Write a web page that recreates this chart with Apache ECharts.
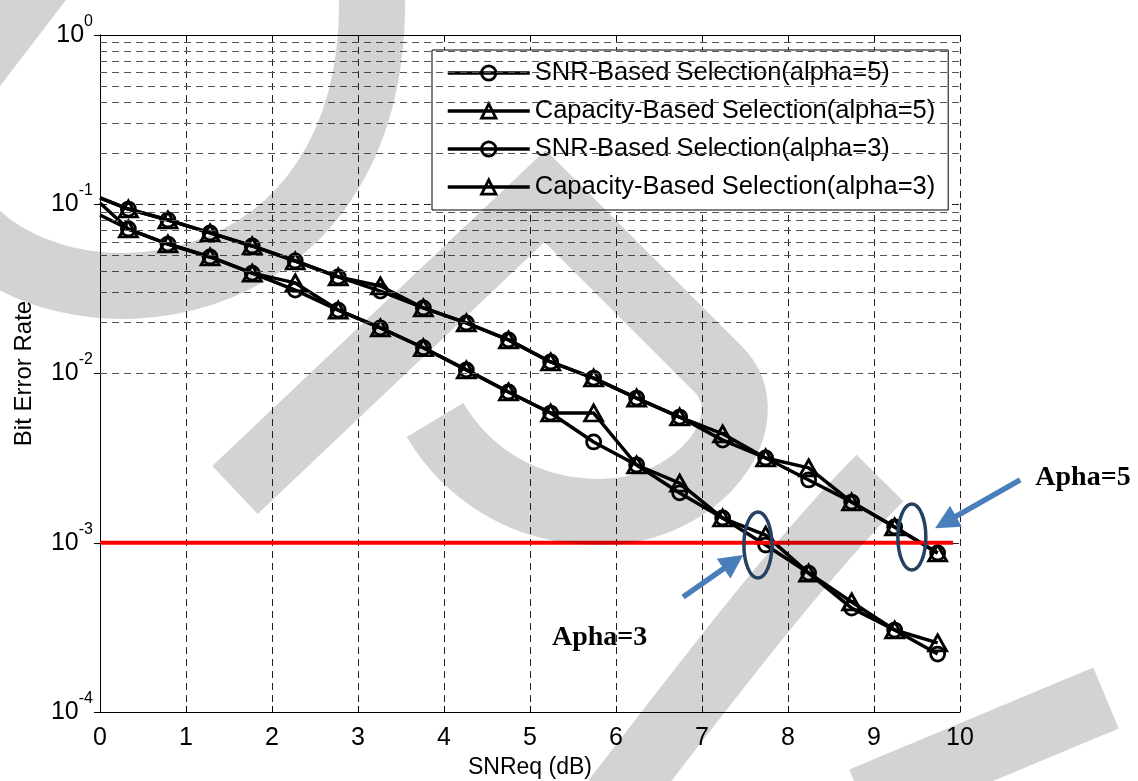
<!DOCTYPE html>
<html>
<head>
<meta charset="utf-8">
<title>Bit Error Rate vs SNReq</title>
<script src="https://cdn.jsdelivr.net/npm/echarts@6/dist/echarts.min.js"></script>
<style>
  html, body { margin: 0; padding: 0; background: #fff; }
  #chart { width: 1138px; height: 781px; }
</style>
</head>
<body>
<div id="chart"></div>
<script>
// x positions (dB); the point at 0 is drawn without a marker
const snrReq = [0, 0.33, 0.79, 1.28, 1.77, 2.27, 2.77, 3.26, 3.76, 4.26, 4.75, 5.24, 5.74, 6.24, 6.74, 7.24, 7.74, 8.24, 8.74, 9.24, 9.74];

const snrBasedA5 = [0.109, 0.0937, 0.0807, 0.0677, 0.0567, 0.0462, 0.0372, 0.0307, 0.0244, 0.0199, 0.0158, 0.0117, 0.0094, 0.00716, 0.00553, 0.00404, 0.00317, 0.00235, 0.00174, 0.00124, 0.00087];
const capBasedA5 = [0.109, 0.0937, 0.0807, 0.0677, 0.0567, 0.0462, 0.0372, 0.0329, 0.0244, 0.0199, 0.0158, 0.0117, 0.0094, 0.00716, 0.00553, 0.0044, 0.00317, 0.00277, 0.00174, 0.00124, 0.00087];
const snrBasedA3 = [0.1017, 0.0714, 0.0582, 0.0488, 0.0392, 0.0311, 0.0237, 0.0186, 0.0142, 0.0105, 0.00778, 0.00584, 0.00394, 0.00288, 0.00197, 0.0014, 0.00097, 0.000662, 0.000411, 0.000305, 0.00022];
const capBasedA3 = [0.0864, 0.0714, 0.0582, 0.0488, 0.0392, 0.0343, 0.0237, 0.0186, 0.0142, 0.0105, 0.00778, 0.00584, 0.00584, 0.00288, 0.00225, 0.0014, 0.00111, 0.000662, 0.000447, 0.000305, 0.000256];

const seriesNames = [
  'SNR-Based Selection(alpha=5)',
  'Capacity-Based Selection(alpha=5)',
  'SNR-Based Selection(alpha=3)',
  'Capacity-Based Selection(alpha=3)'
];

// red target line
const berTarget = 1e-3;
const targetSpan = [0, 9.92];

// annotations, in data coordinates
const noteLabels = ['Apha=3', 'Apha=5'];
const notePos = [[5.81, 0.000274], [11.43, 0.00241]];
const ringPos = [[7.65, 0.00097], [9.44, 0.00108]];
const arrowTail = [[6.78, 0.000478], [10.70, 0.00235]];
const arrowTip = [[7.48, 0.000847], [9.71, 0.00122]];

const FONT = '"Liberation Sans", Arial, sans-serif';
const DASH = [7, 5];

// minor log grid: 2..9 x 10^k
const minorGrid = [];
for (let k = -4; k < 0; k++) {
  for (let m = 2; m <= 9; m++) minorGrid.push(m * Math.pow(10, k));
}

function makeSeries(name, values, symbol, size) {
  return {
    name: name,
    type: 'line',
    data: snrReq.map((x, i) => i === 0 ? { value: [x, values[i]], symbol: 'none' } : [x, values[i]]),
    symbol: symbol,
    symbolSize: size,
    showSymbol: true,
    lineStyle: { color: '#000', width: 3.5 },
    itemStyle: { color: 'rgba(0,0,0,0)', borderColor: '#000', borderWidth: 2.8 },
    emphasis: { disabled: true },
    z: 3
  };
}

const chart = echarts.init(document.getElementById('chart'));

chart.setOption({
  animation: false,
  backgroundColor: '#fff',
  grid: { left: 100, right: 178, top: 35, bottom: 69, containLabel: false, outerBoundsMode: 'none' },
  legend: {
    data: seriesNames,
    orient: 'vertical',
    left: 432,
    top: 50,
    backgroundColor: '#fff',
    borderColor: '#000',
    borderWidth: 1,
    borderRadius: 0,
    padding: [10, 13, 10, 14],
    itemWidth: 82,
    itemHeight: 18,
    itemGap: 12,
    selectedMode: false,
    lineStyle: { width: 3.5, color: '#000' },
    itemStyle: { borderWidth: 2.8, borderColor: '#000', color: 'rgba(0,0,0,0)' },
    textStyle: { fontSize: 25.5, fontFamily: FONT, color: '#000' }
  },
  xAxis: [
    {
      type: 'value',
      min: 0,
      max: 10,
      interval: 1,
      name: 'SNReq (dB)',
      nameLocation: 'middle',
      nameGap: 44,
      nameTextStyle: { fontSize: 23, fontFamily: FONT, color: '#000' },
      axisLine: { show: true, lineStyle: { color: '#000', width: 1 } },
      axisTick: { show: true, inside: true, length: 6, lineStyle: { color: '#000' } },
      axisLabel: { fontSize: 25, fontFamily: FONT, color: '#000', margin: 14 },
      splitLine: { show: true, lineStyle: { color: '#222', type: DASH, width: 1 } }
    },
    {
      type: 'value',
      position: 'top',
      min: 0,
      max: 10,
      interval: 1,
      axisLine: { show: true, lineStyle: { color: '#000', width: 1 } },
      axisTick: { show: true, inside: true, length: 6, lineStyle: { color: '#000' } },
      axisLabel: { show: false },
      splitLine: { show: false }
    }
  ],
  yAxis: [
    {
      type: 'log',
      logBase: 10,
      min: 1e-4,
      max: 1,
      name: 'Bit Error Rate',
      nameLocation: 'middle',
      nameGap: 64,
      nameTextStyle: { fontSize: 24, fontFamily: FONT, color: '#000' },
      axisLine: { show: true, lineStyle: { color: '#000', width: 1 } },
      axisTick: { show: true, inside: true, length: 6, lineStyle: { color: '#000' } },
      axisLabel: {
        margin: 7,
        padding: [0, 0, 9, 0],
        formatter: function (v) {
          const e = Math.round(Math.log10(v));
          return '{b|10}{s|' + e + '}';
        },
        rich: {
          b: { fontSize: 25, fontFamily: FONT, color: '#000', padding: [9, 0, 0, 0] },
          s: { fontSize: 16, fontFamily: FONT, color: '#000', verticalAlign: 'top' }
        }
      },
      splitLine: { show: true, lineStyle: { color: '#222', type: DASH, width: 1 } }
    },
    {
      type: 'log',
      logBase: 10,
      min: 1e-4,
      max: 1,
      position: 'right',
      axisLine: { show: true, lineStyle: { color: '#000', width: 1 } },
      axisTick: { show: true, inside: true, length: 6, lineStyle: { color: '#000' } },
      axisLabel: { show: false },
      splitLine: { show: false }
    }
  ],
  series: [
    {
      name: 'minor grid',
      type: 'line',
      data: [[0, 1e-4]],
      symbol: 'none',
      lineStyle: { opacity: 0 },
      silent: true,
      z: 1,
      markLine: {
        silent: true,
        symbol: ['none', 'none'],
        label: { show: false },
        lineStyle: { color: '#555', type: DASH, width: 1 },
        data: minorGrid.map(v => ({ yAxis: v }))
      }
    },
    makeSeries(seriesNames[0], snrBasedA5, 'circle', 14),
    makeSeries(seriesNames[1], capBasedA5, 'triangle', [18, 16]),
    makeSeries(seriesNames[2], snrBasedA3, 'circle', 14),
    makeSeries(seriesNames[3], capBasedA3, 'triangle', [18, 16]),
    {
      name: 'target',
      type: 'line',
      data: targetSpan.map(x => [x, berTarget]),
      symbol: 'none',
      lineStyle: { color: '#ff0000', width: 4 },
      silent: true,
      z: 4
    }
  ]
});

// annotations and the faint background watermark
const px = p => chart.convertToPixel({ xAxisIndex: 0, yAxisIndex: 0 }, p);
const gray = '#d3d3d3';
const wm = { fill: 'none', stroke: gray, lineWidth: 66, lineCap: 'butt', lineJoin: 'miter', blend: 'multiply' };

const graphics = [
  { type: 'polygon', silent: true, z: 100, shape: { points: [[0, 0], [66, 0], [0, 86]] }, style: { fill: gray, blend: 'multiply' } },
  { type: 'bezierCurve', silent: true, z: 100, shape: { x1: -40, y1: 215, cpx1: 50, cpy1: 340, cpx2: 380, cpy2: 320, x2: 372, y2: -10 }, style: wm },
  { type: 'polyline', silent: true, z: 100, shape: { points: [[235, 490], [545, 196], [718, 369]] }, style: wm },
  { type: 'bezierCurve', silent: true, z: 100, shape: { x1: 718, y1: 369, cpx1: 768, cpy1: 419, cpx2: 700, cpy2: 512, x2: 600, y2: 512 }, style: wm },
  { type: 'bezierCurve', silent: true, z: 100, shape: { x1: 600, y1: 512, cpx1: 520, cpy1: 512, cpx2: 465, cpy2: 470, x2: 435, y2: 420 }, style: wm },
  { type: 'bezierCurve', silent: true, z: 100, shape: { x1: 880, y1: 478, cpx1: 800, cpy1: 558, cpx2: 700, cpy2: 690, x2: 615, y2: 800 }, style: wm },
  { type: 'line', silent: true, z: 100, shape: { x1: 862, y1: 800, x2: 1106, y2: 698 }, style: wm }
];

ringPos.forEach(p => {
  const c = px(p);
  graphics.push({
    type: 'ellipse', silent: true, z: 120,
    shape: { cx: c[0], cy: c[1], rx: 14, ry: 33 },
    style: { fill: 'none', stroke: '#254061', lineWidth: 3.5 }
  });
});

arrowTail.forEach((t, i) => {
  const a = px(t), b = px(arrowTip[i]);
  const dx = b[0] - a[0], dy = b[1] - a[1];
  const len = Math.sqrt(dx * dx + dy * dy);
  const ux = dx / len, uy = dy / len;
  const head = 24, half = 12;
  const bx = b[0] - ux * head, by = b[1] - uy * head;
  graphics.push({
    type: 'line', silent: true, z: 120,
    shape: { x1: a[0], y1: a[1], x2: bx + ux * 2, y2: by + uy * 2 },
    style: { stroke: '#4a7ebb', lineWidth: 5.5 }
  });
  graphics.push({
    type: 'polygon', silent: true, z: 120,
    shape: { points: [[b[0], b[1]], [bx - uy * half, by + ux * half], [bx + uy * half, by - ux * half]] },
    style: { fill: '#4a7ebb' }
  });
});

noteLabels.forEach((txt, i) => {
  const c = px(notePos[i]);
  graphics.push({
    type: 'text', silent: true, z: 120,
    x: c[0], y: c[1],
    style: { text: txt, font: 'bold 28px "Liberation Serif", "Times New Roman", serif', fill: '#000', align: 'center', verticalAlign: 'middle' }
  });
});

chart.setOption({ graphic: graphics });
</script>
</body>
</html>
